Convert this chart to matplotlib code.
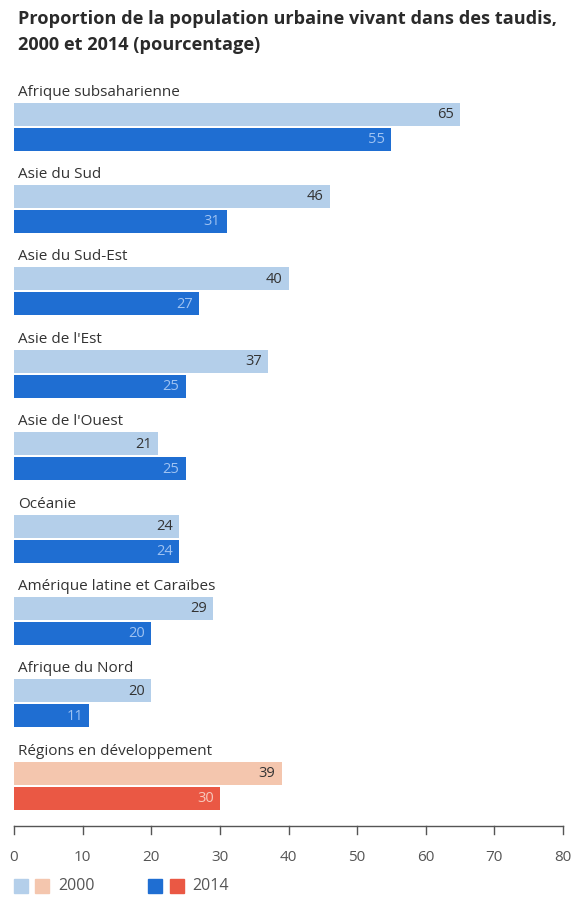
import numpy as np
import matplotlib
matplotlib.use("Agg")
import matplotlib.pyplot as plt
from matplotlib.patches import Rectangle

plt.rcParams['font.family'] = ['Open Sans', 'DejaVu Sans']

# données
regions = ["Afrique subsaharienne", "Asie du Sud", "Asie du Sud-Est", "Asie de l'Est",
           "Asie de l'Ouest", "Océanie", "Amérique latine et Caraïbes", "Afrique du Nord",
           "Régions en développement"]
v2000 = [65, 46, 40, 37, 21, 24, 29, 20, 39]
v2014 = [55, 31, 27, 25, 25, 24, 20, 11, 30]
ticks = [0, 10, 20, 30, 40, 50, 60, 70, 80]

light_blue = "#b4cfea"
dark_blue = "#1f6ed2"
peach = "#f4c6ae"
red = "#ea5844"
txt = "#333333"

W, H = 574, 899
fig = plt.figure(figsize=(W / 100, H / 100), dpi=100)
# axe : 0 -> x=14px, 80 -> x=563px ; y en pixels (inversé)
ax = fig.add_axes([14 / W, 1 - 826 / H, (563 - 14) / W, (826 - 80) / H])
ax.set_xlim(0, 80)
ax.set_ylim(826, 80)

step = 82.4
bh = 23
for i, r in enumerate(regions):
    y0 = 92 + step * i
    last = (i == len(regions) - 1)
    c1 = peach if last else light_blue
    c2 = red if last else dark_blue
    ax.barh(y0 + 22, v2000[i], height=bh, color=c1, left=0)
    ax.barh(y0 + 47, v2014[i], height=bh, color=c2, left=0)
    ax.text(0.6, y0, r, ha="left", va="center", fontsize=11, color=txt)
    ax.text(v2000[i] - 0.9, y0 + 22.5, str(v2000[i]), ha="right", va="center",
            fontsize=10.5, color=txt)
    ax.text(v2014[i] - 0.9, y0 + 47.5, str(v2014[i]), ha="right", va="center",
            fontsize=10.5, color="#f6c9bd" if last else "#9fc3f2")

for s in ["top", "right", "left"]:
    ax.spines[s].set_visible(False)
ax.spines["bottom"].set_color("#555555")
ax.spines["bottom"].set_linewidth(1.0)
ax.set_yticks([])
ax.set_xticks(ticks)
ax.tick_params(axis="x", direction="in", length=0, pad=17, labelsize=11,
               labelcolor="#555555")
# petites graduations vers le bas
for t in ticks:
    ax.plot([t, t], [826, 834], color="#555555", lw=1.0, clip_on=False)

fig.text(18 / W, 1 - 19 / H, "Proportion de la population urbaine vivant dans des taudis,",
         ha="left", va="center", fontsize=13.1, fontweight="bold", color="#2a2a2a")
fig.text(18 / W, 1 - 45 / H, "2000 et 2014 (pourcentage)",
         ha="left", va="center", fontsize=13.1, fontweight="bold", color="#2a2a2a")

# légende
def sq(x, c):
    fig.patches.append(Rectangle((x / W, 1 - 893 / H), 14 / W, 14 / H,
                                 transform=fig.transFigure, color=c))
sq(14, light_blue)
sq(35, peach)
fig.text(58 / W, 1 - 886 / H, "2000", ha="left", va="center", fontsize=11.5,
         color="#555555")
sq(148, dark_blue)
sq(170, red)
fig.text(192 / W, 1 - 886 / H, "2014", ha="left", va="center", fontsize=11.5,
         color="#555555")

fig.savefig("out.png", dpi=100)
